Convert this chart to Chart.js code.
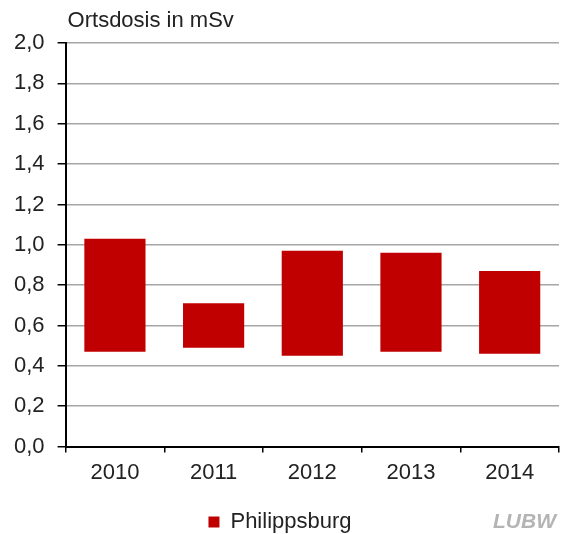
<!DOCTYPE html>
<html>
<head>
<meta charset="utf-8">
<script src="https://cdn.jsdelivr.net/npm/chart.js@4"></script>
<style>
  body { margin: 0; background: #fff; }
  canvas { display: block; }
</style>
</head>
<body>
<canvas id="doseChart" width="567" height="534"></canvas>
<script>
// Werte (mSv)
const years = ['2010', '2011', '2012', '2013', '2014'];
const doseMin = [0.47, 0.49, 0.45, 0.47, 0.46];
const doseMax = [1.03, 0.71, 0.97, 0.96, 0.87];
const seriesName = 'Philippsburg';
const axisTitle = 'Ortsdosis in mSv';

const fontFamily = '"Liberation Sans", Arial, sans-serif';

// Titel oben links und LUBW-Logo unten rechts
const extraText = {
    id: 'extraText',
    afterDraw(chart) {
        const ctx = chart.ctx;
        const area = chart.chartArea;
        ctx.save();
        ctx.fillStyle = '#222';
        ctx.font = '22px ' + fontFamily;
        ctx.textBaseline = 'middle';
        ctx.textAlign = 'left';
        ctx.fillText(axisTitle, area.left + 2, 21);
        ctx.fillStyle = '#b4b4b4';
        ctx.font = 'italic bold 21px ' + fontFamily;
        ctx.textAlign = 'right';
        ctx.fillText('LUBW', 556, 522);
        ctx.restore();
    }
};

const ctx = document.getElementById('doseChart').getContext('2d');
new Chart(ctx, {
    type: 'bar',
    data: {
        labels: years,
        datasets: [{
            label: seriesName,
            data: years.map((y, i) => [doseMin[i], doseMax[i]]),
            backgroundColor: '#c00000',
            borderSkipped: false,
            barPercentage: 0.62,
            categoryPercentage: 1.0
        }]
    },
    options: {
        responsive: false,
        animation: false,
        layout: { padding: { left: 1, right: 8, top: 43, bottom: -9 } },
        scales: {
            x: {
                grid: {
                    offset: true,
                    color: (c) => c.index === years.length ? '#a6a6a6' : 'rgba(0,0,0,0)',
                    lineWidth: 1.5,
                    tickColor: '#000',
                    tickLength: 6,
                    tickWidth: 1.5
                },
                border: { color: '#000', width: 2 },
                ticks: { color: '#222', font: { family: fontFamily, size: 22 }, padding: 7 }
            },
            y: {
                min: 0,
                max: 2,
                grid: {
                    color: '#a6a6a6',
                    lineWidth: 1.5,
                    tickColor: '#000',
                    tickLength: 8,
                    tickWidth: 1.5
                },
                border: { color: '#000', width: 2 },
                ticks: {
                    stepSize: 0.2,
                    color: '#222',
                    font: { family: fontFamily, size: 22 },
                    padding: 13,
                    callback: (v) => v.toFixed(1).replace('.', ',')
                }
            }
        },
        plugins: {
            legend: {
                position: 'bottom',
                labels: {
                    color: '#222',
                    font: { family: fontFamily, size: 22 },
                    boxWidth: 11,
                    boxHeight: 11,
                    padding: 18
                }
            },
            tooltip: { enabled: false },
            title: { display: false }
        }
    },
    plugins: [extraText]
});
</script>
</body>
</html>
